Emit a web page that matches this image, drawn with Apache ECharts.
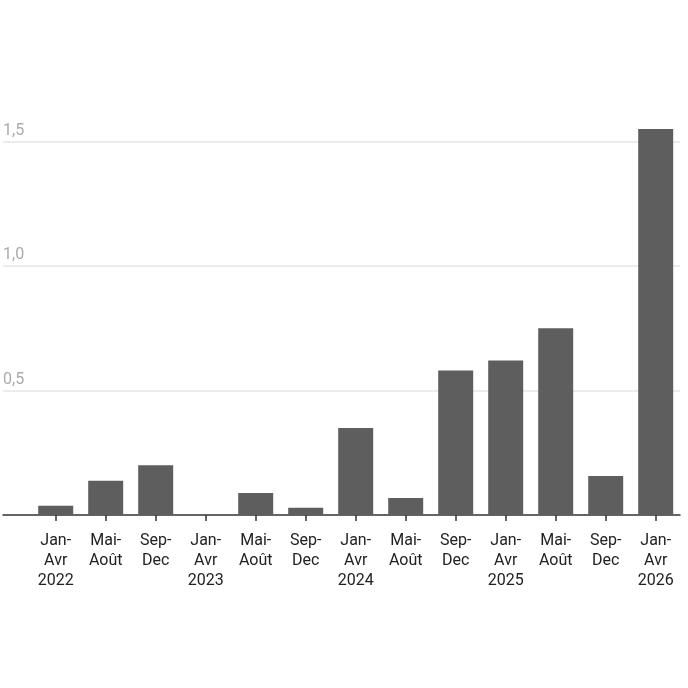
<!DOCTYPE html>
<html>
<head>
<meta charset="utf-8">
<script src="https://cdn.jsdelivr.net/npm/echarts@6/dist/echarts.min.js"></script>
<style>
  html, body { margin: 0; padding: 0; background: #fff; }
  #chart { width: 688px; height: 688px; }
</style>
</head>
<body>
<div id="chart"></div>
<script>
// périodes de quatre mois
const categories = [
  'Jan-\nAvr\n2022', 'Mai-\nAoût', 'Sep-\nDec',
  'Jan-\nAvr\n2023', 'Mai-\nAoût', 'Sep-\nDec',
  'Jan-\nAvr\n2024', 'Mai-\nAoût', 'Sep-\nDec',
  'Jan-\nAvr\n2025', 'Mai-\nAoût', 'Sep-\nDec',
  'Jan-\nAvr\n2026'
];
const values = [0.037, 0.138, 0.2, 0, 0.088, 0.029, 0.349, 0.068, 0.58, 0.62, 0.75, 0.157, 1.55];
const yMax = 2;
const yStep = 0.5;

const font = 'Roboto, "Noto Sans", sans-serif';

let myChart = echarts.init(document.getElementById('chart'));
let option = {
  animation: false,
  grid: [
    // grille pour les lignes horizontales + axe
    { left: 2, right: 8, top: 17, bottom: 173 },
    // grille pour les barres
    { left: 30.7, right: 7.3, top: 17, bottom: 173 }
  ],
  xAxis: [
    {
      gridIndex: 0,
      type: 'value',
      min: 0,
      max: 1,
      axisLine: { show: true, lineStyle: { color: '#333', width: 1.5 } },
      axisTick: { show: false },
      axisLabel: { show: false },
      splitLine: { show: false }
    },
    {
      gridIndex: 1,
      type: 'category',
      data: categories,
      axisLine: { show: false },
      axisTick: { show: true, alignWithLabel: true, length: 6, lineStyle: { color: '#333', width: 1.5 } },
      axisLabel: {
        interval: 0,
        margin: 16,
        color: '#222',
        fontSize: 16,
        lineHeight: 20,
        fontFamily: font
      }
    }
  ],
  yAxis: [
    {
      gridIndex: 0,
      type: 'value',
      min: 0,
      max: yMax,
      interval: yStep,
      axisLine: { show: false },
      axisTick: { show: false },
      axisLabel: {
        inside: true,
        margin: 0,
        align: 'left',
        verticalAlign: 'bottom',
        padding: [0, 0, 3, 0],
        color: '#aaa',
        fontSize: 16,
        fontFamily: font,
        formatter: function (v) {
          if (v === 0 || v >= yMax) return '';
          return v.toFixed(1).replace('.', ',');
        }
      },
      splitLine: {
        show: true,
        lineStyle: { color: ['rgba(0,0,0,0)', '#e6e6e6', '#e6e6e6', '#e6e6e6', 'rgba(0,0,0,0)'], width: 1.5 }
      }
    },
    {
      gridIndex: 1,
      type: 'value',
      min: 0,
      max: yMax,
      show: false
    }
  ],
  series: [
    {
      type: 'bar',
      xAxisIndex: 1,
      yAxisIndex: 1,
      data: values,
      barWidth: 35,
      itemStyle: { color: '#5e5e5e' }
    }
  ]
};
myChart.setOption(option);
</script>
</body>
</html>
